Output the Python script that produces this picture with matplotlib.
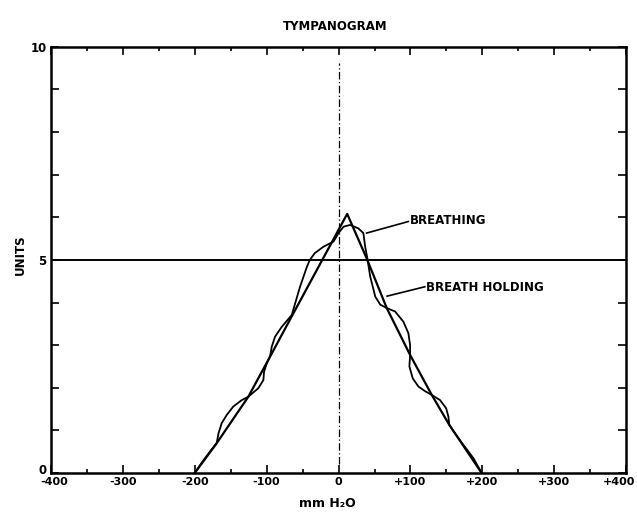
import matplotlib
matplotlib.use("Agg")
import matplotlib.pyplot as plt
import matplotlib.transforms as mtransforms
from matplotlib.ticker import MultipleLocator

# (mm H2O vs units)
breathing_x = [-200, -190, -179, -169.5, -167, -162.5, -155.6, -146.4, -134.7, -125.5,
               -111.6, -104.6, -103.6, -99.9, -95.3, -93, -88.3, -79, -65, -63, -53.6,
               -44, -40, -33, -21, -7, 0, 7, 16, 27.5, 34.5, 37, 40, 44, 51, 58, 67,
               78.6, 90.2, 97.1, 99.5, 99.5, 98.5, 103.2, 111, 120.3, 129.7, 141.2, 149.6,
               152.8, 154, 162, 173.6, 187.5, 199]
breathing_y = [0.0, 0.25, 0.50, 0.70, 0.93, 1.17, 1.36, 1.56, 1.71, 1.79,
               1.99, 2.18, 2.38, 2.57, 2.73, 2.96, 3.20, 3.43, 3.71, 3.83, 4.37,
               4.84, 5.0, 5.16, 5.31, 5.43, 5.63, 5.78, 5.82, 5.74, 5.63, 5.31, 5.04, 4.61, 4.14, 3.95, 3.87,
               3.79, 3.55, 3.28, 3.0, 2.77, 2.50, 2.22, 2.03, 1.92, 1.83, 1.71, 1.52,
               1.32, 1.13, 0.93, 0.66, 0.35, 0.0]

holding_x = [-200, -169.5, -125.5, -95.3, -65, 12, 39, 67, 99.5, 129.7, 154, 199]
holding_y = [0.0, 0.70, 1.79, 2.73, 3.68, 6.08, 5.04, 3.87, 2.77, 1.83, 1.13, 0.0]

xticks = [-400, -300, -200, -100, 0, 100, 200, 300, 400]
xticklabels = ["-400", "-300", "-200", "-100", "0", "+100", "+200", "+300", "+400"]
yticks = [0, 5, 10]

fig = plt.figure(figsize=(6.37, 5.16), dpi=100)
ax = fig.add_axes([0.080, 0.0833, 0.903, 0.826])

ax.plot(breathing_x, breathing_y, color="black", lw=1.3, solid_joinstyle="round")
ax.plot(holding_x, holding_y, color="black", lw=1.6, solid_joinstyle="round")

ax.axhline(5, color="black", lw=1.4)
ax.plot([0, 0], [0.2, 9.62], color="black", lw=0.9, ls=(0, (6, 2, 1, 2)))

# leader lines + labels
ax.plot([39, 97], [5.63, 5.90], color="black", lw=1.2)
ax.text(99, 5.93, "BREATHING", fontsize=8.5, fontweight="bold", va="center", ha="left")
ax.plot([67.5, 120], [4.15, 4.37], color="black", lw=1.2)
ax.text(122, 4.36, "BREATH HOLDING", fontsize=8.5, fontweight="bold", va="center", ha="left")

ax.set_xlim(-400, 400)
ax.set_ylim(0, 10)
ax.set_xticks(xticks)
ax.set_xticklabels(xticklabels, fontsize=8, fontweight="bold")
ax.set_yticks(yticks)
ax.set_yticklabels([str(v) for v in yticks], fontsize=8.5, fontweight="bold")
ax.yaxis.set_minor_locator(MultipleLocator(1))
ax.xaxis.set_minor_locator(MultipleLocator(50))
ax.tick_params(which="both", direction="in", top=True, right=True, width=1.2)
ax.tick_params(which="major", length=6, pad=3)
ax.tick_params(which="minor", length=6)
ax.tick_params(axis="x", which="minor", length=3)
for s in ax.spines.values():
    s.set_linewidth(1.8)

# nudge edge labels like the original lettering
xl = ax.get_xticklabels()
xl[-1].set_transform(xl[-1].get_transform() + mtransforms.ScaledTranslation(-0.07, 0, fig.dpi_scale_trans))
xl[0].set_transform(xl[0].get_transform() + mtransforms.ScaledTranslation(0.03, 0, fig.dpi_scale_trans))
yl = ax.get_yticklabels()
yl[0].set_transform(yl[0].get_transform() + mtransforms.ScaledTranslation(0, 0.04, fig.dpi_scale_trans))

ax.text(0.494, 1.047, "TYMPANOGRAM", transform=ax.transAxes, ha="center", va="center",
        fontsize=8.5, fontweight="bold")
ax.text(-0.054, 0.512, "UNITS", transform=ax.transAxes, ha="center", va="center",
        rotation=90, fontsize=8.5, fontweight="bold")
ax.text(0.48, -0.072, "mm H\u2082O", transform=ax.transAxes, ha="center", va="center",
        fontsize=9, fontweight="bold")

fig.savefig("out.png", dpi=100)
